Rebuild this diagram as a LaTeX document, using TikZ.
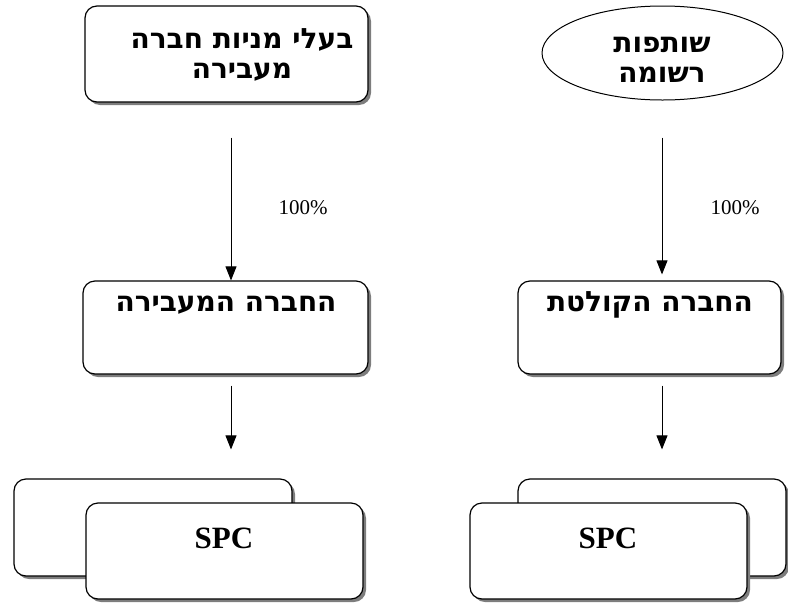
\documentclass[tikz,border=0pt]{standalone}
\usepackage{fontspec}
\setmainfont{Liberation Serif}
\newfontfamily\hebfont[Script=Hebrew]{DejaVu Sans}
\TeXXeTstate=1
\usepackage{tikz}
\usetikzlibrary{arrows.meta, positioning, shapes.geometric, shadows}
\definecolor{hold_shadow}{RGB}{125, 125, 125}
\tikzset{
  holdbox/.style={draw, line width=1.2pt, rounded corners=12pt, fill=white, inner sep=0pt,
    drop shadow={shadow xshift=3pt, shadow yshift=-3pt, fill=hold_shadow, opacity=1}},
  holdoval/.style={draw, ellipse, line width=1pt, fill=white, inner sep=0pt},
  holdtext/.style={font=\hebfont\bfseries\fontsize{28}{30}\selectfont, align=center},
  spctext/.style={font=\bfseries\fontsize{31}{34}\selectfont},
  pcttext/.style={font=\fontsize{21}{24}\selectfont},
  holdarrow/.style={-{Triangle[length=14pt, width=11pt]}, line width=0.9pt},
}

\begin{document}
\begin{tikzpicture}[x=1pt, y=-1pt]
    \useasboundingbox (0,0) rectangle (788,603);

    \node[holdbox, minimum width=283pt, minimum height=96pt] (sellers) at (226.5,54) {};
    \node[holdtext] (sellerstxt) at (242,55) {\beginR בעלי מניות חברה\endR\\\beginR מעבירה\endR};

    \node[holdoval, minimum width=241pt, minimum height=94pt] (partner) at (662.5,53) {};
    \node[holdtext] (partnertxt) at (662,60) {\beginR שותפות\endR\\\beginR רשומה\endR};

    \node[holdbox, minimum width=285pt, minimum height=93pt] (transfer) at (225.5,327.5) {};
    \node[holdtext] (transfertxt) at (226,305) {\beginR החברה המעבירה\endR};

    \node[holdbox, minimum width=263pt, minimum height=93pt] (receive) at (649.5,327.5) {};
    \node[holdtext] (receivetxt) at (650,305) {\beginR החברה הקולטת\endR};

    \node[holdbox, minimum width=278pt, minimum height=97pt] (spclback)  at (153,527.5) {};
    \node[holdbox, minimum width=277pt, minimum height=96pt] (spclfront) at (224.5,551) {};
    \node[spctext] (spcltxt) at (224,538) {SPC};

    \node[holdbox, minimum width=268pt, minimum height=97pt] (spcrback)  at (652,527.5) {};
    \node[holdbox, minimum width=277pt, minimum height=96pt] (spcrfront) at (608.5,551) {};
    \node[spctext] (spcrtxt) at (608,538) {SPC};

    \draw[holdarrow] ([xshift=4.5pt, yshift=-35pt]sellers.south) -- ([xshift=5.5pt]transfer.north);
    \draw[holdarrow] ([xshift=-0.5pt, yshift=-37pt]partner.south) -- ([xshift=12.5pt, yshift=6pt]receive.north);
    \draw[holdarrow] ([xshift=5.5pt, yshift=-11pt]transfer.south) -- ([xshift=78pt, yshift=29pt]spclback.north);
    \draw[holdarrow] ([xshift=12.5pt, yshift=-11pt]receive.south) -- ([xshift=10pt, yshift=29pt]spcrback.north);

    \node[pcttext] (pctleft)  at (303,208) {100\%};
    \node[pcttext] (pctright) at (735,208) {100\%};
  \end{tikzpicture}
\end{document}
